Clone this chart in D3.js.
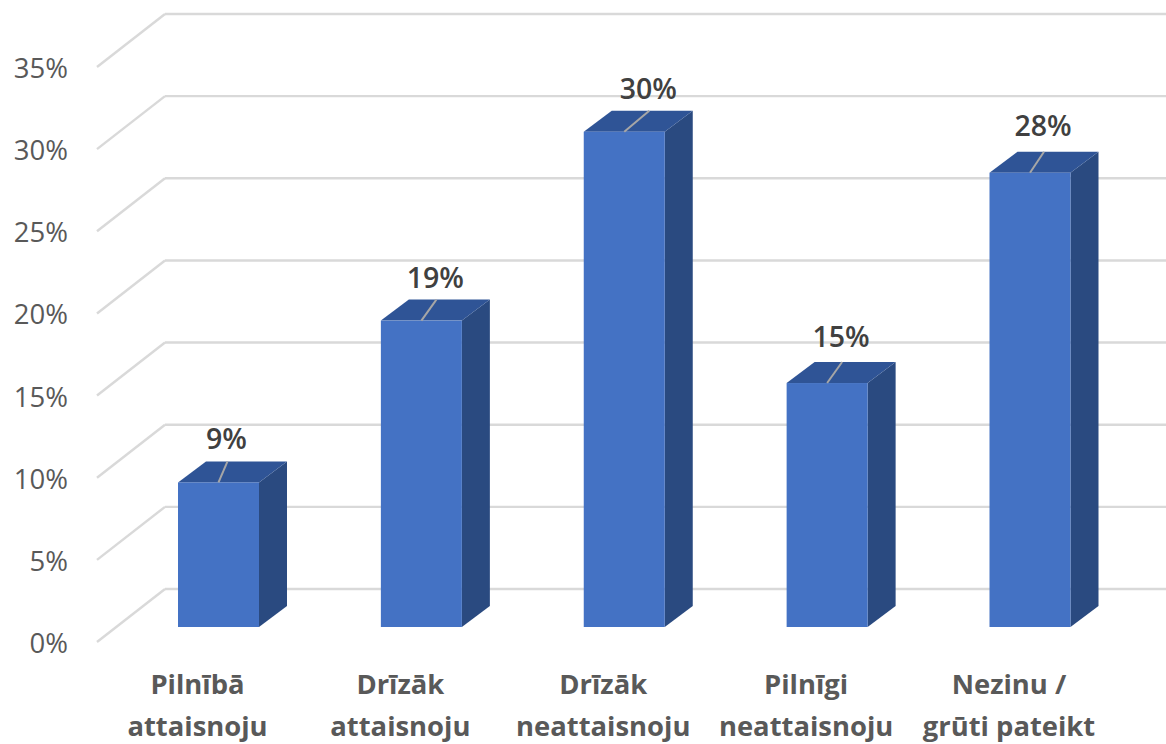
<!DOCTYPE html>
<html>
<head>
<meta charset="utf-8">
<script src="https://cdnjs.cloudflare.com/ajax/libs/d3/7.8.5/d3.min.js"></script>
<style>
html, body { margin: 0; padding: 0; background: #fff; }
text { font-family: "Open Sans", sans-serif; }
</style>
</head>
<body>
<svg id="chart" width="1166" height="744" style="display:block"></svg>
<script>
var categories = [["Pilnībā", "attaisnoju"], ["Drīzāk", "attaisnoju"], ["Drīzāk", "neattaisnoju"], ["Pilnīgi", "neattaisnoju"], ["Nezinu /", "grūti pateikt"]];
var values = [8.8, 18.65, 30.15, 14.85, 27.65];
var labels = ["9%", "19%", "30%", "15%", "28%"];
var ticks = [0, 5, 10, 15, 20, 25, 30, 35];

var svg = d3.select("#chart");

// depth offset of the 3D box
var dx = 28, dy = -21;
// leader lines lean by a different amount on each bar, labels sit at different heights
var leaderLean = [9, 15, 25, 15, 14];
var labelRaise = [33, 33, 33, 36, 37];

var y = d3.scaleLinear().domain([0, 35]).range([627, 52]);
var x = d3.scalePoint().domain(d3.range(categories.length)).range([218.5, 1030]);
var barW = 81;

// back wall gridlines and side wall diagonals
ticks.forEach(function(t){
	var back = y(t) - 38;
	var front = back + 53;
	svg.append("line").attr("x1", 97).attr("y1", front).attr("x2", 165).attr("y2", back)
	.style("stroke", "#d9d9d9").style("stroke-width", 2.4);
	svg.append("line").attr("x1", 165).attr("y1", back).attr("x2", 1166).attr("y2", back)
	.style("stroke", "#d9d9d9").style("stroke-width", 2.4);
	svg.append("text").attr("x", 68).attr("y", front + 11).attr("text-anchor", "end")
	.style("font-size", "27.5px").style("fill", "#595959").text(t + "%");
});

values.forEach(function(v, i){
	var cx = x(i), l = cx - barW / 2, r = cx + barW / 2, top = y(v), bot = y(0);
	var poly = function(p){ return p.map(function(q){ return q.join(","); }).join(" "); };
	svg.append("polygon").attr("points", poly([[r, top], [r + dx, top + dy], [r + dx, bot + dy], [r, bot]])).style("fill", "#2a4a80");
	svg.append("polygon").attr("points", poly([[l, top], [l + dx, top + dy], [r + dx, top + dy], [r, top]])).style("fill", "#2f5496");
	svg.append("rect").attr("x", l).attr("y", top).attr("width", barW).attr("height", bot - top).style("fill", "#4472c4");
	// leader line up to the value label
	svg.append("line").attr("x1", cx).attr("y1", top).attr("x2", cx + leaderLean[i]).attr("y2", top + dy)
	.style("stroke", "#a6a6a6").style("stroke-width", 2);
	svg.append("text").attr("x", cx + leaderLean[i] - 1).attr("y", top - labelRaise[i]).attr("text-anchor", "middle")
	.style("font-size", "28.5px").style("font-weight", "600").style("fill", "#404040").text(labels[i]);
	categories[i].forEach(function(line, k){
		svg.append("text").attr("x", cx - 21).attr("y", 694 + k * 42).attr("text-anchor", "middle")
		.style("font-size", "27.4px").style("font-weight", "700").style("fill", "#595959").text(line);
	});
});
</script>
</body>
</html>
